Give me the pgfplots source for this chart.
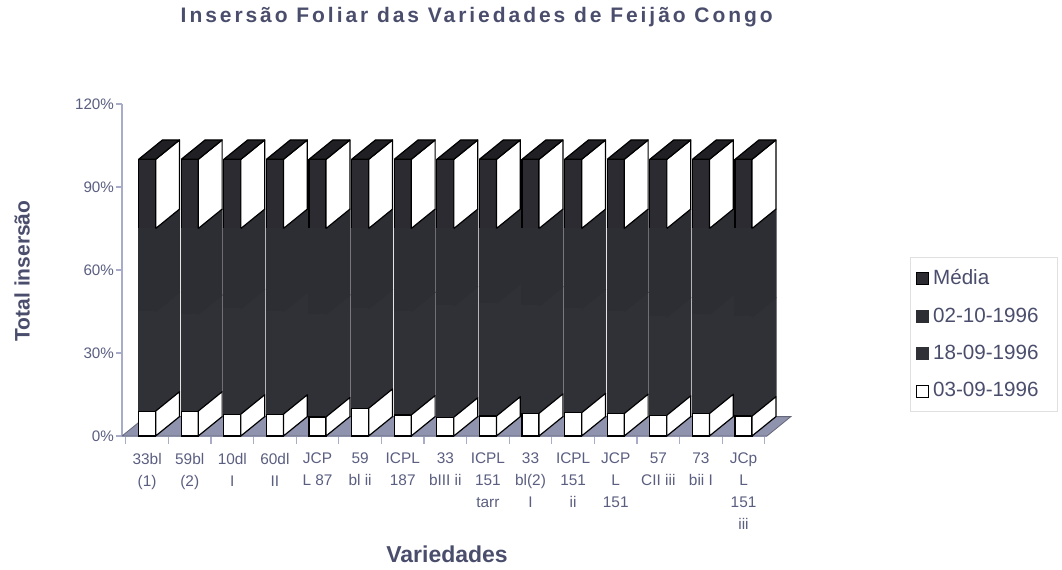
\documentclass[border=0pt]{standalone}
\usepackage{pgfplots}
\usepackage{pgfplotstable}
\pgfplotsset{compat=1.18}
\usepackage{fontspec}
\setmainfont{Liberation Sans}
\newfontfamily\titlefont[LetterSpace=14]{Liberation Sans}
\definecolor{txt}{HTML}{4A4E6C}
\definecolor{tickc}{HTML}{5A5E80}
\definecolor{axisc}{HTML}{A8ACC8}
\definecolor{dA}{HTML}{2B2B31}
\definecolor{dB}{HTML}{2D2D34}
\definecolor{dC}{HTML}{303037}
\definecolor{topc}{HTML}{1F1F24}
\definecolor{floorc}{HTML}{9093AD}

\pgfplotstableread{
x a b c m
0 9.0 36.0 30.0 25
1 9.0 35.0 31.0 25
2 7.9 38.1 29.0 25
3 7.9 37.1 30.0 25
4 6.9 37.1 31.0 25
5 10.0 36.0 29.0 25
6 7.6 37.4 30.0 25
7 6.8 40.2 28.0 25
8 7.2 40.8 27.0 25
9 8.2 38.8 28.0 25
10 8.4 37.6 29.0 25
11 8.1 36.9 30.0 25
12 7.5 35.5 32.0 25
13 8.1 35.9 31.0 25
14 7.2 35.8 32.0 25
}\datatable

\def\sdx{0.56}
\def\sdy{7}

\begin{document}
\begin{tikzpicture}
\begin{axis}[
  x=21.3pt, y=1.3833pt,
  xmin=-0.59, xmax=14.55, ymin=0, ymax=120,
  clip=false,
  axis x line*=bottom, axis y line*=left,
  axis line style={axisc, line width=0.6pt},
  tick align=outside,
  ytick={0,30,60,90,120},
  yticklabels={0\%,30\%,60\%,90\%,120\%},
  yticklabel style={font=\fontsize{7.6}{9}\selectfont, text=tickc, xshift=2.5pt},
  major tick length=3pt,
  every tick/.style={axisc, line width=0.6pt},
  xtick={0,...,14},
  xticklabels={{33bl\\(1)},{59bl\\(2)},{10dl\\I},{60dl\\II},{JCP\\L 87},{59\\bl ii},{ICPL\\187},{33\\bIII ii},{ICPL\\151\\tarr},{33\\bl(2)\\I},{ICPL\\151\\ii},{JCP\\L\\151},{57\\CII iii},{73\\bii I},{JCp\\L\\151\\iii}},
  xticklabel style={font=\fontsize{7.7}{11}\selectfont, text=tickc, align=center, anchor=north, yshift=-2pt},
  major x tick style={draw=none},
  minor xtick={-0.5,0.5,...,14.5},
  minor tick length=4pt,
  minor x tick style={axisc, line width=0.6pt},
  every axis title shift=0pt,
  title={\titlefont\bfseries Insersão Foliar das Variedades de Feijão Congo},
  title style={at={(0.55,1.262)}, anchor=center, font=\fontsize{10.5}{12}\selectfont, text=txt},
  xlabel={\bfseries Variedades},
  xlabel style={at={(0.504,-0.355)}, anchor=center, font=\fontsize{11.5}{13}\selectfont, text=txt},
  ylabel={\bfseries Total insersão},
  ylabel style={at={(-0.155,0.497)}, anchor=center, font=\fontsize{10.5}{12}\selectfont, text=txt},
  legend style={at={(1.2217,0.539)}, anchor=north west, draw=black!12, font=\fontsize{10.3}{12}\selectfont, text=txt, row sep=6pt, inner xsep=3pt, inner ysep=4pt},
  legend cell align=left,
  mybar/.style={ybar, bar width=0.4, bar shift=0pt, line width=0.6pt,
    legend image code/.code={\draw[##1, line width=0.4pt] (0pt,-3pt) rectangle (6pt,3pt);}},
  poly/.style={forget plot, sharp plot, mark=none, line width=0.6pt, line join=round},
]
% floor
\addplot[forget plot, sharp plot, mark=none, fill=floorc, draw=floorc!70!black, line width=0.4pt]
  coordinates {(-0.59,0) (14.55,0) (15.11,7) (-0.03,7) (-0.59,0)};
% fronts (cumulative, tallest first)
\addplot[mybar, fill=dA, draw=black] table[x=x, y expr=\thisrow{a}+\thisrow{b}+\thisrow{c}+\thisrow{m}] {\datatable};
\addlegendentry{Média\hspace*{4.5pt}\null}
\addplot[mybar, fill=dB, draw=dB] table[x=x, y expr=\thisrow{a}+\thisrow{b}+\thisrow{c}] {\datatable};
\addlegendentry{02-10-1996\hspace*{4.5pt}\null}
\addplot[mybar, fill=dC, draw=dC] table[x=x, y expr=\thisrow{a}+\thisrow{b}] {\datatable};
\addlegendentry{18-09-1996\hspace*{4.5pt}\null}
\addplot[mybar, fill=white, draw=black] table[x=x, y=a] {\datatable};
\addlegendentry{03-09-1996\hspace*{4.5pt}\null}
% sides and tops
\pgfplotsinvokeforeach{0,...,14}{
  \pgfplotstablegetelem{#1}{a}\of\datatable \pgfmathsetmacro\ya{\pgfplotsretval}
  \pgfplotstablegetelem{#1}{b}\of\datatable \pgfmathsetmacro\yb{\ya+\pgfplotsretval}
  \pgfplotstablegetelem{#1}{c}\of\datatable \pgfmathsetmacro\yc{\yb+\pgfplotsretval}
  \pgfplotstablegetelem{#1}{m}\of\datatable \pgfmathsetmacro\yd{\yc+\pgfplotsretval}
  \pgfmathsetmacro\xl{#1-0.2}
  \pgfmathsetmacro\xr{#1+0.2}
  \pgfmathsetmacro\xs{#1+0.2+\sdx}
  \pgfmathsetmacro\xt{#1-0.2+\sdx}
  \pgfmathsetmacro\yo{\sdy}
  \pgfmathsetmacro\yao{\ya+\sdy}
  \pgfmathsetmacro\ybo{\yb+\sdy}
  \pgfmathsetmacro\yco{\yc+\sdy}
  \pgfmathsetmacro\ydo{\yd+\sdy}
  \addplot[poly, fill=dC, draw=dC] coordinates {(\xr,\ya) (\xs,\yao) (\xs,\ybo) (\xr,\yb) (\xr,\ya)};
  \addplot[poly, fill=dB, draw=dB] coordinates {(\xr,\yb) (\xs,\ybo) (\xs,\yco) (\xr,\yc) (\xr,\yb)};
  \addplot[poly, fill=white, draw=black] coordinates {(\xr,0) (\xs,\yo) (\xs,\yao) (\xr,\ya) (\xr,0)};
  \addplot[poly, fill=white, draw=black] coordinates {(\xr,\yc) (\xs,\yco) (\xs,\ydo) (\xr,\yd) (\xr,\yc)};
  \addplot[poly, fill=topc, draw=black] coordinates {(\xl,\yd) (\xr,\yd) (\xs,\ydo) (\xt,\ydo) (\xl,\yd)};
}
\coordinate (O) at (axis cs:-0.59,0);
\end{axis}
\path (O) ++(-61pt,218pt) rectangle ++(531pt,-284.5pt);
\end{tikzpicture}
\end{document}
